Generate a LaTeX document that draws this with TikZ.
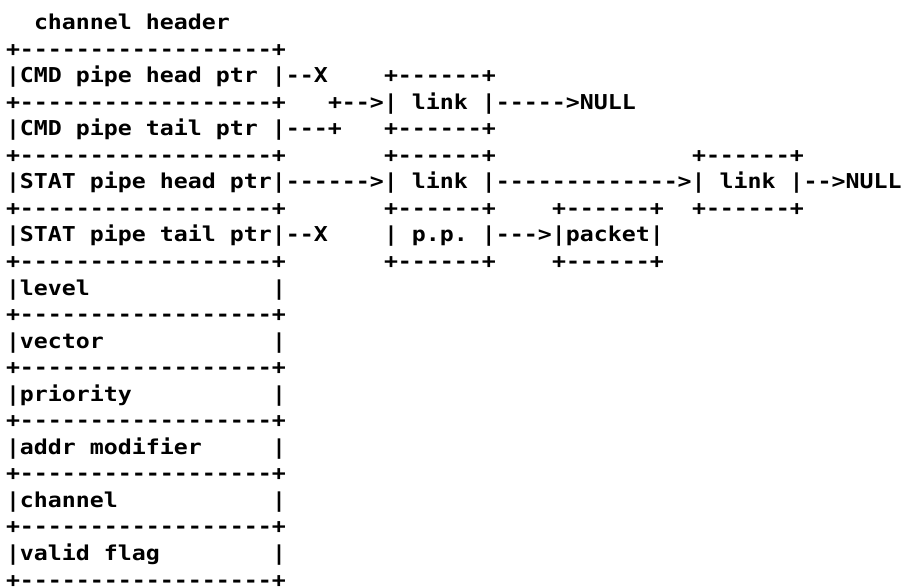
\documentclass[tikz,border=0pt]{standalone}
\usepackage{fontspec}
\setmonofont[FakeStretch=1.134]{DejaVu Sans Mono}
\begin{document}
\begin{tikzpicture}[x=1pt,y=-1pt,
  seg/.style={anchor=base west, inner sep=0pt, outer sep=0pt,
    font=\ttfamily\bfseries\fontsize{20.5}{20.5}\selectfont}]
% one character cell is 14pt wide, one text row is 26.55pt high
\newcommand\seg[4]{\node[seg] (#1) at ({6+14*#3},{29.5+26.55*(#2-1)}) {#4};}
\useasboundingbox (0,0) rectangle (907,587);
% title
\seg{title}{1}{2}{channel header}
% channel header record
\seg{r2}{2}{0}{+------------------+}
\seg{cmdhead}{3}{0}{|CMD pipe head ptr |--X}
\seg{r4}{4}{0}{+------------------+}
\seg{cmdtail}{5}{0}{|CMD pipe tail ptr |---+}
\seg{r6}{6}{0}{+------------------+}
\seg{stathead}{7}{0}{|STAT pipe head ptr|------>| link |------------->| link |-->NULL}
\seg{r8}{8}{0}{+------------------+}
\seg{stattail}{9}{0}{|STAT pipe tail ptr|--X}
\seg{r10}{10}{0}{+------------------+}
\seg{level}{11}{0}{|level}      \seg{levelR}{11}{19}{|}
\seg{r12}{12}{0}{+------------------+}
\seg{vector}{13}{0}{|vector}    \seg{vectorR}{13}{19}{|}
\seg{r14}{14}{0}{+------------------+}
\seg{prio}{15}{0}{|priority}    \seg{prioR}{15}{19}{|}
\seg{r16}{16}{0}{+------------------+}
\seg{addr}{17}{0}{|addr modifier} \seg{addrR}{17}{19}{|}
\seg{r18}{18}{0}{+------------------+}
\seg{chan}{19}{0}{|channel}     \seg{chanR}{19}{19}{|}
\seg{r20}{20}{0}{+------------------+}
\seg{valid}{21}{0}{|valid flag} \seg{validR}{21}{19}{|}
\seg{r22}{22}{0}{+------------------+}
% command pipe link
\seg{cmdlinkT}{3}{27}{+------+}
\seg{cmdlink}{4}{23}{+-->| link |----->NULL}
\seg{cmdlinkB}{5}{27}{+------+}
% status pipe: first link and its packet pointer
\seg{statlinkT}{6}{27}{+------+}
\seg{statlinkB}{8}{27}{+------+}
\seg{pp}{9}{27}{| p.p. |--->|packet|}
\seg{ppB}{10}{27}{+------+}
% packet box
\seg{pktT}{8}{39}{+------+}
\seg{pktB}{10}{39}{+------+}
% second status link
\seg{link2T}{6}{49}{+------+}
\seg{link2B}{8}{49}{+------+}
\end{tikzpicture}
\end{document}
